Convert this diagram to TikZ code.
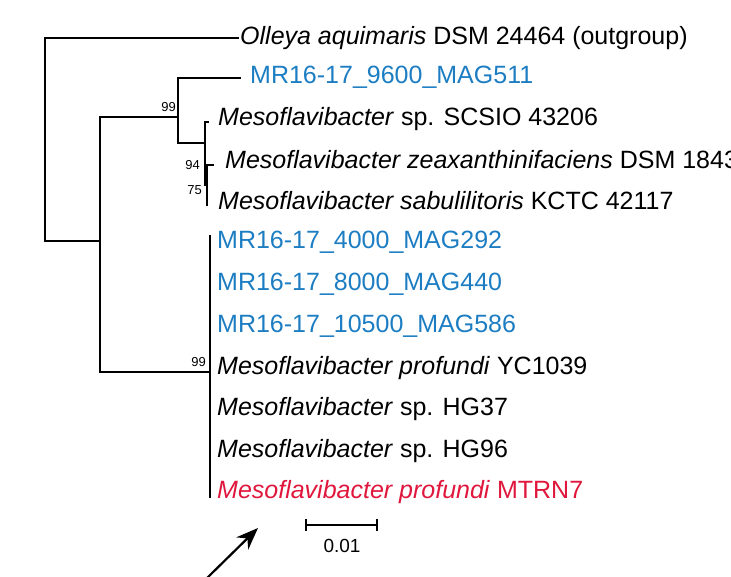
\documentclass[tikz,border=0pt]{standalone}
\usepackage{fontspec}
\setmainfont{Liberation Sans}
\usetikzlibrary{arrows.meta}
\definecolor{magblue}{HTML}{1C7DC2}
\definecolor{magred}{HTML}{E0173C}
\begin{document}
\begin{tikzpicture}[x=1pt,y=-1pt,
  br/.style={line width=1.9pt,line cap=rect},
  lab/.style={anchor=west,inner sep=0pt,font=\fontsize{25}{28}\selectfont},
  boot/.style={font=\fontsize{13}{14}\selectfont,inner sep=0pt,anchor=south east}]
\useasboundingbox (0,0) rectangle (731,576);
\clip (0,0) rectangle (731,576);
% labels
\node[lab] (t1) at (240,38) {\textit{Olleya aquimaris} DSM 24464 (outgroup)};
\node[lab,text=magblue] (t2) at (250,77) {MR16-17\_9600\_MAG511};
\node[lab] (t3) at (218,119) {\textit{Mesoflavibacter} sp. SCSIO 43206};
\node[lab] (t4) at (225,160) {\textit{Mesoflavibacter zeaxanthinifaciens} DSM 18436};
\node[lab] (t5) at (218,201) {\textit{Mesoflavibacter sabulilitoris} KCTC 42117};
\node[lab,text=magblue] (t6) at (217,242) {MR16-17\_4000\_MAG292};
\node[lab,text=magblue] (t7) at (217,284) {MR16-17\_8000\_MAG440};
\node[lab,text=magblue] (t8) at (217,326) {MR16-17\_10500\_MAG586};
\node[lab] (t9) at (217,368) {\textit{Mesoflavibacter profundi} YC1039};
\node[lab] (t10) at (217,409) {\textit{Mesoflavibacter} sp. HG37};
\node[lab] (t11) at (217,451) {\textit{Mesoflavibacter} sp. HG96};
\node[lab,text=magred] (t12) at (217,492) {\textit{Mesoflavibacter profundi} MTRN7};
% tree
\draw[br] (45,38) -- (238,38);
\draw[br] (45,38) -- (45,241) -- (100,241);
\draw[br] (100,117) -- (100,372);
\draw[br] (100,117) -- (178,117);
\draw[br] (178,78) -- (178,143);
\draw[br] (178,78) -- (240,78);
\draw[br] (178,143) -- (205,143);
\draw[br] (205,122) -- (205,185);
\draw[br] (205,122) -- (208,122);
\draw[br] (207,165) -- (207,205);
\draw[br] (207,165) -- (213,165);
\draw[br] (100,372) -- (210,372);
\draw[br] (210,236) -- (210,497);
% bootstrap
\node[boot] (b1) at (176,112) {99};
\node[boot] (b2) at (200,170) {94};
\node[boot] (b3) at (202,195) {75};
\node[boot] (b4) at (206,367) {99};
% scale bar
\coordinate (s1) at (306,525);
\coordinate (s2) at (377,525);
\draw[line width=1.6pt] (s1) -- (s2);
\draw[line width=1.6pt] (306,519) -- (306,531) (377,519) -- (377,531);
\node[font=\fontsize{19}{20}\selectfont,inner sep=0pt] (sl) at (342,546) {0.01};
% arrow
\coordinate (a1) at (205,580);
\coordinate (a2) at (258,528);
\draw[line width=2.2pt,-{Stealth[length=22pt,width=17pt]}] (a1) -- (a2);
\end{tikzpicture}
\end{document}
